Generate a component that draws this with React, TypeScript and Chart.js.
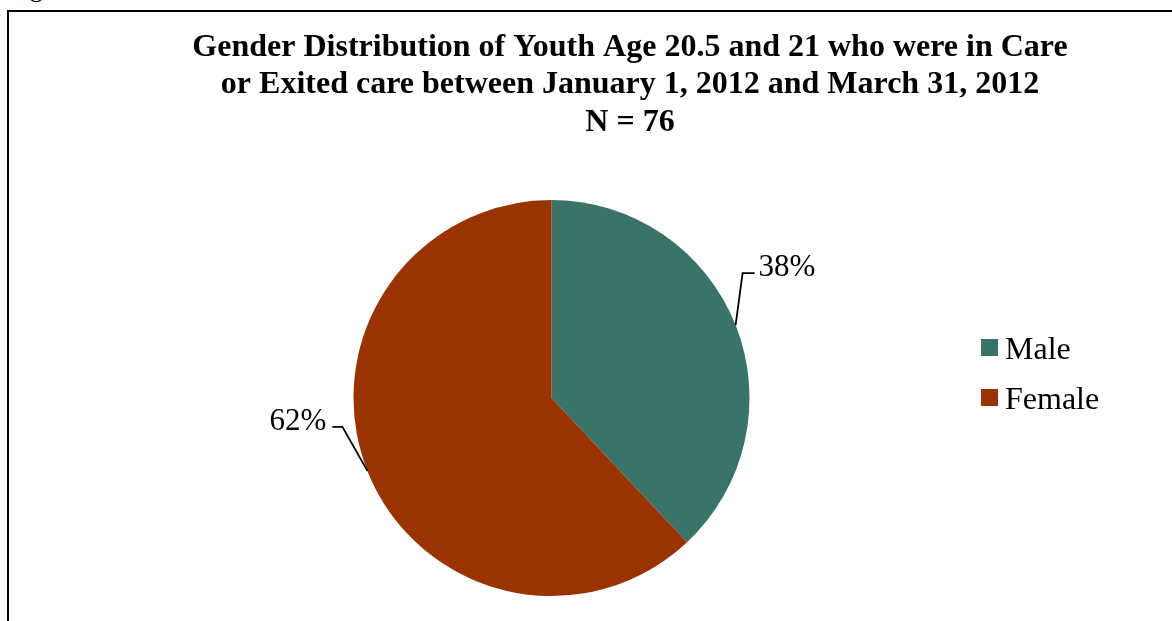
import React, { useEffect, useRef } from "react";
import { Chart, registerables } from "chart.js";

Chart.register(...registerables);

const categories = ["Male", "Female"];
const percentValues = [38, 62];
const sliceColors = ["#3A7368", "#993300"];
const titleLines = [
  "Gender Distribution of Youth Age 20.5 and 21 who were in Care",
  "or Exited care between January 1, 2012 and March 31, 2012",
  "N = 76",
];

const SERIF = '"Liberation Serif", "Times New Roman", serif';

const overlayPlugin = {
  id: "overlay",
  afterDraw(chart: any) {
    const ctx = chart.ctx as CanvasRenderingContext2D;
    ctx.save();
    // Title
    ctx.fillStyle = "#000";
    ctx.font = `bold 32px ${SERIF}`;
    ctx.textAlign = "center";
    ctx.textBaseline = "alphabetic";
    const titleBaselines = [44, 81, 119];
    titleLines.forEach((t, i) => ctx.fillText(t, 621, titleBaselines[i]));

    // Data labels with leader lines
    const meta = chart.getDatasetMeta(0);
    ctx.font = `31px ${SERIF}`;
    ctx.strokeStyle = "#000";
    ctx.lineWidth = 1.8;
    meta.data.forEach((arc: any, i: number) => {
      const p = arc.getProps(["x", "y", "startAngle", "endAngle", "outerRadius"], true);
      const mid = (p.startAngle + p.endAngle) / 2;
      const ex = p.x + Math.cos(mid) * p.outerRadius;
      const ey = p.y + Math.sin(mid) * p.outerRadius;
      const label = `${percentValues[i]}%`;
      const right = Math.cos(mid) >= 0;
      const elbowX = right ? ex + 7 : ex - 25;
      const elbowY = right ? ey - 52 : ey - 44;
      const endX = right ? elbowX + 12 : elbowX - 10;
      ctx.beginPath();
      ctx.moveTo(ex, ey);
      ctx.lineTo(elbowX, elbowY);
      ctx.lineTo(endX, elbowY);
      ctx.stroke();
      ctx.textAlign = right ? "left" : "right";
      ctx.fillText(label, right ? endX + 4 : endX - 6, elbowY + 3);
    });

    // Legend
    ctx.textAlign = "left";
    ctx.font = `32px ${SERIF}`;
    categories.forEach((c, i) => {
      const y = 327 + i * 50;
      ctx.fillStyle = sliceColors[i];
      ctx.fillRect(972, y, 17, 17);
      ctx.fillStyle = "#000";
      ctx.fillText(c, 996, y + 20);
    });
    ctx.restore();
  },
};

export default function App() {
  const ref = useRef<HTMLCanvasElement | null>(null);
  useEffect(() => {
    if (!ref.current) return;
    const chart = new Chart(ref.current, {
      type: "pie",
      data: {
        labels: categories,
        datasets: [
          {
            data: percentValues,
            backgroundColor: sliceColors,
            borderWidth: 0,
          },
        ],
      },
      options: {
        animation: false,
        responsive: false,
        layout: { padding: { top: 188, bottom: 25, left: 100, right: 178 } },
        plugins: {
          legend: { display: false },
          title: { display: false },
          tooltip: { enabled: false },
        },
      },
      plugins: [overlayPlugin],
    });
    return () => chart.destroy();
  }, []);

  return (
    <div
      style={{
        position: "fixed",
        left: 0,
        top: 0,
        width: 1172,
        height: 621,
        overflow: "hidden",
        background: "#fff",
      }}
    >
      <div
        style={{
          position: "absolute",
          left: 8,
          top: -24,
          fontFamily: SERIF,
          fontSize: 26,
          lineHeight: "26px",
          color: "#000",
          whiteSpace: "nowrap",
        }}
      >
        Figure 4
      </div>
      <div
        style={{
          position: "absolute",
          left: 7,
          top: 10,
          width: 1300,
          height: 800,
          borderLeft: "2px solid #000",
          borderTop: "2px solid #000",
        }}
      />
      <canvas
        ref={ref}
        width={1163}
        height={609}
        style={{ position: "absolute", left: 9, top: 12, width: 1163, height: 609 }}
      />
    </div>
  );
}
